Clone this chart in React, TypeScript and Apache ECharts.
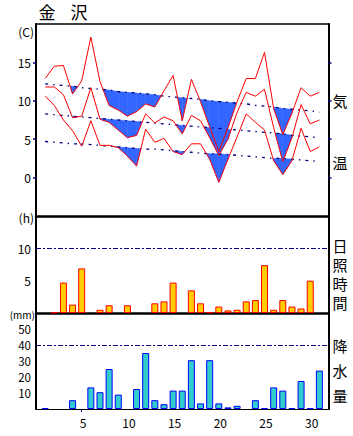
import React, { useEffect, useRef } from "react";
import * as echarts from "echarts";

const DAYS = [1, 2, 3, 4, 5, 6, 7, 8, 9, 10, 11, 12, 13, 14, 15, 16, 17, 18, 19, 20, 21, 22, 23, 24, 25, 26, 27, 28, 29, 30, 31];
const TEMP_MAX = [12.9, 14.5, 14.6, 10.9, 12.6, 18.3, 12.5, 9.4, 8.8, 8.0, 8.6, 9.6, 9.2, 11.3, 13.3, 7.4, 12.8, 9.9, 6.6, 3.4, 6.5, 9.9, 12.9, 12.9, 16.3, 9.0, 5.6, 8.4, 11.7, 10.6, 11.1];
const TEMP_MEAN = [11.8, 11.8, 10.8, 7.8, 8.0, 11.7, 7.6, 7.2, 6.2, 5.2, 5.5, 8.3, 7.1, 7.9, 7.4, 5.7, 8.1, 7.4, 5.2, 2.9, 5.0, 8.5, 11.1, 10.6, 11.5, 6.5, 2.1, 5.2, 9.5, 7.0, 7.5];
const TEMP_MIN = [10.6, 9.4, 7.5, 6.1, 4.1, 7.4, 4.2, 4.2, 3.9, 2.8, 1.5, 6.3, 4.6, 5.1, 3.4, 3.0, 4.4, 4.4, 2.4, -0.6, 2.4, 5.3, 8.3, 7.2, 6.2, 2.2, 0.4, 2.2, 6.4, 3.4, 4.0];
const NORMAL_MAX = [12.2, 12.1, 12.0, 11.9, 11.7, 11.6, 11.5, 11.4, 11.2, 11.1, 11.0, 10.9, 10.8, 10.6, 10.5, 10.4, 10.3, 10.2, 10.0, 9.9, 9.8, 9.7, 9.6, 9.4, 9.3, 9.2, 9.0, 8.9, 8.8, 8.7, 8.5];
const NORMAL_MEAN = [8.3, 8.2, 8.1, 8.0, 7.9, 7.8, 7.7, 7.6, 7.5, 7.4, 7.3, 7.2, 7.1, 7.0, 6.9, 6.8, 6.7, 6.6, 6.5, 6.4, 6.3, 6.2, 6.1, 6.0, 5.9, 5.8, 5.7, 5.5, 5.4, 5.3, 5.2];
const NORMAL_MIN = [4.7, 4.6, 4.5, 4.4, 4.4, 4.3, 4.2, 4.1, 4.0, 3.9, 3.8, 3.7, 3.7, 3.6, 3.5, 3.4, 3.3, 3.2, 3.1, 3.1, 3.0, 2.9, 2.8, 2.7, 2.6, 2.5, 2.5, 2.4, 2.3, 2.2, 2.1];
const SUNSHINE = [0, 0.1, 4.7, 1.3, 6.9, 0, 0.5, 1.2, 0, 1.2, 0, 0, 1.5, 1.8, 4.7, 0, 3.5, 1.5, 0.1, 1.0, 0.4, 0.5, 1.8, 2.0, 7.4, 0.5, 2.0, 1.0, 0.7, 5.0, 0];
const PRECIP = [0.5, 0, 0, 5.5, 0, 13.5, 10.5, 25, 9, 0, 12.5, 35, 5.5, 3, 11.5, 11.5, 30.5, 3.5, 30.5, 3.5, 1, 2, 0, 5.5, 0.5, 13.5, 11.5, 0.5, 17.5, 0.5, 24];

const TEMP_TICKS = [0, 5, 10, 15];
const SUN_TICKS = [5, 10];
const PRECIP_TICKS = [10, 20, 30, 40, 50];
const DAY_TICKS = [5, 10, 15, 20, 25, 30];
const DAY_MARK = [5];
const SUN_REF = 10;
const PRECIP_REF = 40;

const FONT = '"Noto Sans CJK JP", "Noto Sans", sans-serif';
const NAVY = "#000080";
const GL = 36;
const GW = 292.5;

function segData(actual: number[], normal: number[]) {
  const out: number[][] = [];
  for (let i = 0; i < DAYS.length - 1; i++) {
    out.push([DAYS[i], DAYS[i + 1], actual[i], normal[i], actual[i + 1], normal[i + 1]]);
  }
  return out;
}

function renderFill(_params: any, api: any) {
  const x0 = api.value(0), x1 = api.value(1);
  const a0 = api.value(2), n0 = api.value(3), a1 = api.value(4), n1 = api.value(5);
  const d0 = n0 - a0, d1 = n1 - a1;
  if (d0 <= 0 && d1 <= 0) return { type: "group", children: [] };
  let pts: number[][];
  if (d0 >= 0 && d1 >= 0) {
    pts = [[x0, n0], [x1, n1], [x1, a1], [x0, a0]];
  } else {
    const t = d0 / (d0 - d1);
    const xc = x0 + t * (x1 - x0);
    const yc = n0 + t * (n1 - n0);
    pts = d0 > 0 ? [[x0, n0], [xc, yc], [x0, a0]] : [[xc, yc], [x1, n1], [x1, a1]];
  }
  return {
    type: "polygon",
    shape: { points: pts.map((p) => api.coord(p)) },
    style: { fill: "#3366ff", stroke: "#3366ff", lineWidth: 0.5 },
  };
}

function fillSeries(actual: number[], normal: number[]) {
  return {
    type: "custom",
    xAxisIndex: 0,
    yAxisIndex: 0,
    renderItem: renderFill,
    encode: { x: [0, 1], y: [2, 3, 4, 5] },
    data: segData(actual, normal),
    silent: true,
    z: 1,
  };
}

function lineSeries(vals: number[], normal: boolean) {
  return {
    type: "line",
    xAxisIndex: 0,
    yAxisIndex: 0,
    data: DAYS.map((d, i) => [d, vals[i]]),
    symbol: "none",
    silent: true,
    lineStyle: normal
      ? { color: NAVY, width: 1.3, type: [3, 5, 1.5, 5] }
      : { color: "#ff0000", width: 1 },
    z: normal ? 3 : 4,
  };
}

function xAxisBase(gridIndex: number, lineWidth: number, position = "bottom") {
  return {
    type: "value",
    gridIndex,
    min: 0,
    max: 32,
    position,
    axisLine: { show: true, onZero: false, lineStyle: { color: "#000", width: lineWidth } },
    axisTick: { show: false },
    axisLabel: { show: false },
    splitLine: { show: false },
  };
}

function yAxisBase(gridIndex: number, min: number, max: number, position: string) {
  return {
    type: "value",
    gridIndex,
    min,
    max,
    position,
    axisLine: { show: true, onZero: false, lineStyle: { color: "#000", width: 2 } },
    axisTick: { show: false },
    axisLabel: { show: false },
    splitLine: { show: false },
  };
}

const text = (t: string, x: number, y: number, size: number, align = "center") => ({
  type: "text",
  x,
  y,
  silent: true,
  style: { text: t, fontSize: size, lineHeight: size, fontFamily: FONT, fill: "#000", align, verticalAlign: "middle" },
});

export default function App() {
  const ref = useRef<HTMLDivElement>(null);
  useEffect(() => {
    if (!ref.current) return;
    const chart = echarts.init(ref.current, null, { renderer: "svg" });
    const refLine = (v: number) => ({
      silent: true,
      symbol: ["none", "none"],
      label: { show: false },
      lineStyle: { color: NAVY, width: 1, type: [5, 2, 2, 2] },
      data: [{ yAxis: v }],
    });
    const tempY = yAxisBase(0, -5, 20, "left") as any;
    tempY.axisTick = { show: true, customValues: TEMP_TICKS, length: 3, lineStyle: { color: NAVY, width: 1.5 } };
    tempY.axisLabel = { show: true, customValues: TEMP_TICKS, fontSize: 12, fontFamily: FONT, color: "#000", margin: 5 };
    const tempYR = yAxisBase(0, -5, 20, "right") as any;
    tempYR.axisTick = { show: true, customValues: TEMP_TICKS, length: 3, lineStyle: { color: NAVY, width: 1.5 } };
    const sunY = yAxisBase(1, 0, 15, "left") as any;
    sunY.axisLabel = { show: true, customValues: SUN_TICKS, fontSize: 12, fontFamily: FONT, color: "#000", margin: 5 };
    const rainY = yAxisBase(2, 0, 60, "left") as any;
    rainY.axisLabel = { show: true, customValues: PRECIP_TICKS, fontSize: 11.5, lineHeight: 11, fontFamily: FONT, color: "#000", margin: 5, showMaxLabel: true };
    const dayX = xAxisBase(2, 1) as any;
    dayX.axisLabel = { show: true, customValues: DAY_TICKS, fontSize: 12, fontFamily: FONT, color: "#000", margin: 7, padding: [0, 0, 0, 3] };
    dayX.axisTick = { show: true, customValues: DAY_MARK, length: 3, lineStyle: { color: NAVY, width: 1 } };

    chart.setOption({
      animation: false,
      backgroundColor: "#fff",
      grid: [
        { left: GL, top: 24, width: GW, height: 192, containLabel: false, outerBoundsMode: "none" },
        { left: GL, top: 216, width: GW, height: 97, containLabel: false, outerBoundsMode: "none" },
        { left: GL, top: 313, width: GW, height: 96, containLabel: false, outerBoundsMode: "none" },
      ],
      xAxis: [xAxisBase(0, 2.5), xAxisBase(0, 1.5, "top"), xAxisBase(1, 2.5), dayX],
      yAxis: [tempY, tempYR, sunY, yAxisBase(1, 0, 15, "right"), rainY, yAxisBase(2, 0, 60, "right")],
      series: [
        fillSeries(TEMP_MAX, NORMAL_MAX),
        fillSeries(TEMP_MEAN, NORMAL_MEAN),
        fillSeries(TEMP_MIN, NORMAL_MIN),
        lineSeries(NORMAL_MAX, true),
        lineSeries(NORMAL_MEAN, true),
        lineSeries(NORMAL_MIN, true),
        lineSeries(TEMP_MAX, false),
        lineSeries(TEMP_MEAN, false),
        lineSeries(TEMP_MIN, false),
        {
          type: "bar",
          xAxisIndex: 2,
          yAxisIndex: 2,
          barWidth: 7,
          silent: true,
          data: DAYS.map((d, i) => [d, SUNSHINE[i] > 0 ? SUNSHINE[i] : null]),
          itemStyle: { color: "#ffcc00", borderColor: "#ff0000", borderWidth: 1 },
          markLine: refLine(SUN_REF),
        },
        {
          type: "bar",
          xAxisIndex: 3,
          yAxisIndex: 4,
          barWidth: 7,
          silent: true,
          data: DAYS.map((d, i) => [d, PRECIP[i] > 0 ? PRECIP[i] : null]),
          itemStyle: { color: "#33cccc", borderColor: "#0000ff", borderWidth: 1 },
          markLine: refLine(PRECIP_REF),
        },
      ],
      graphic: [
        text("金", 47, 11, 17),
        text("沢", 79, 11, 17),
        text("(C)", 34, 31, 12, "right"),
        text("(h)", 34, 217, 12, "right"),
        text("(mm)", 35, 314, 10, "right"),
        text("気", 340, 100, 15),
        text("温", 340, 162, 15),
        text("日", 340, 245, 15),
        text("照", 340, 264, 15),
        text("時", 340, 283, 15),
        text("間", 340, 302, 15),
        text("降", 340, 345, 15),
        text("水", 340, 370, 15),
        text("量", 340, 395, 15),
      ],
    });
    return () => chart.dispose();
  }, []);
  return (
    <div
      ref={ref}
      style={{ position: "absolute", left: 0, top: 0, width: 353, height: 436, background: "#fff" }}
    />
  );
}
